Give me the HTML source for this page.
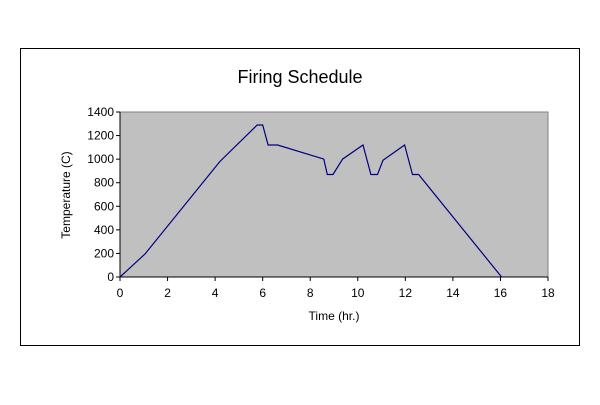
<!DOCTYPE html>
<html><head><meta charset="utf-8"><style>
body{margin:0;background:#fff;font-family:"Liberation Sans",Arial,sans-serif}
</style></head><body>
<svg width="600" height="400" xmlns="http://www.w3.org/2000/svg" font-family="Liberation Sans, Arial, sans-serif">
<rect x="20.5" y="48.5" width="559" height="297" fill="#fff" stroke="#000"/>
<text x="300" y="83" font-size="18" text-anchor="middle">Firing Schedule</text>
<rect x="120" y="112" width="428" height="165" fill="#c0c0c0" stroke="#808080"/>
<g id="axes"></g>
<path id="series" fill="none" stroke="#000080" stroke-width="1.2"/>
<text x="334" y="320" font-size="12" text-anchor="middle">Time (hr.)</text>
<text x="70" y="195" font-size="12" text-anchor="middle" transform="rotate(-90 70 195)">Temperature (C)</text>
</svg>
<script>
const times=[0,1.05,4.2,5.77,6.0,6.23,6.63,8.57,8.72,8.96,9.36,10.22,10.55,10.83,11.06,11.97,12.3,12.56,16.05];
const temps=[0,195,980,1290,1290,1120,1120,1000,870,870,1000,1120,870,870,990,1120,870,870,0];
const xTicks=[0,2,4,6,8,10,12,14,16,18];
const yTicks=[0,200,400,600,800,1000,1200,1400];
const X0=120,X1=548,Y0=277,Y1=112;
const sx=v=>X0+(v/18)*(X1-X0);
const sy=v=>Y0-(v/1400)*(Y0-Y1);
const ns="http://www.w3.org/2000/svg";
const g=document.getElementById('axes');
function mk(t,a){const e=document.createElementNS(ns,t);for(const k in a)e.setAttribute(k,a[k]);g.appendChild(e);return e;}
let ax=mk('line',{x1:X0,y1:Y1,x2:X0,y2:Y0,stroke:'#000'});


ax=mk('line',{x1:X0,y1:Y0,x2:X1,y2:Y0,stroke:'#000'});


xTicks.forEach(v=>{
 const t=mk('line',{x1:sx(v),y1:Y0,x2:sx(v),y2:Y0+4,stroke:'#000'});
 
 
 const l=mk('text',{x:sx(v),y:Y0+20,'font-size':12,'text-anchor':'middle'});l.textContent=v;
 
 
});
yTicks.forEach(v=>{
 const t=mk('line',{x1:X0-4,y1:sy(v),x2:X0,y2:sy(v),stroke:'#000'});
 
 
 const l=mk('text',{x:X0-6,y:sy(v)+4,'font-size':12,'text-anchor':'end'});l.textContent=v;
 
 
});
document.getElementById('series').setAttribute('d',times.map((t,i)=>(i?'L':'M')+sx(t).toFixed(1)+','+sy(temps[i]).toFixed(1)).join(''));
</script>
</body></html>
